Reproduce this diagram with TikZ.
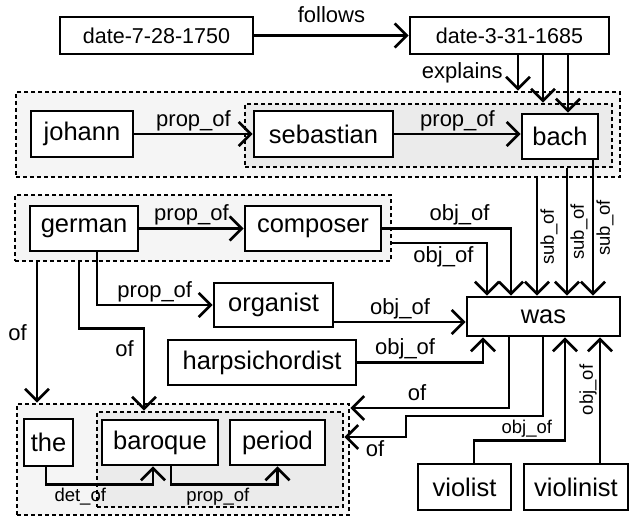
\documentclass[tikz,border=0pt]{standalone}
\usepackage{fontspec}
\setmainfont{Liberation Sans}
\usetikzlibrary{arrows.meta}
\newcommand{\wordfont}{\fontsize{25.5}{30}\selectfont}
\newcommand{\datefont}{\fontsize{21.5}{25}\selectfont}
\newcommand{\relfont}{\fontsize{22}{26}\selectfont}
\newcommand{\smallrelfont}{\fontsize{18.5}{22}\selectfont}

\begin{document}
\begin{tikzpicture}[
  x=1pt, y=-1pt,
  word/.style={draw,rectangle,line width=2.8pt,fill=white,inner sep=0pt,font=\wordfont},
  datebox/.style={word,font=\datefont},
  group/.style={draw,rectangle,line width=2.6pt,dash pattern=on 4pt off 3pt,fill=black!4,inner sep=0pt},
  subgroup/.style={group,fill=black!8},
  rel/.style={font=\relfont,inner sep=2pt},
  srel/.style={font=\smallrelfont,inner sep=2pt},
  link/.style={->,line width=2.7pt},
  >={Straight Barb[length=12pt,width=24pt]}
]
\useasboundingbox (0,0) rectangle (632,519);

\node[group,minimum width=604pt,minimum height=85pt] (bachgrp) at (318,134.5) {};
\node[subgroup,minimum width=367pt,minimum height=63pt] (sebgrp) at (428.5,135.5) {};
\node[group,minimum width=376pt,minimum height=66pt] (germgrp) at (203,228) {};
\node[group,minimum width=332pt,minimum height=111pt] (thegrp) at (183,459.5) {};
\node[subgroup,minimum width=246pt,minimum height=95pt] (barogrp) at (220,459.5) {};

\node[datebox,minimum width=193pt,minimum height=37pt] (d1750) at (156.5,35.5) {date-7-28-1750};
\node[datebox,minimum width=199pt,minimum height=37pt] (d1685) at (509.5,35.5) {date-3-31-1685};
\node[word,minimum width=102pt,minimum height=46pt] (johann) at (82,134) {johann};
\node[word,minimum width=139pt,minimum height=46pt] (sebastian) at (323.5,134) {sebastian};
\node[word,minimum width=76pt,minimum height=45pt] (bach) at (560,136.5) {bach};
\node[word,minimum width=108pt,minimum height=45pt] (german) at (84,228.5) {german};
\node[word,minimum width=136pt,minimum height=45pt] (composer) at (313,228.5) {composer};
\node[word,minimum width=119pt,minimum height=44pt] (organist) at (273.5,305) {organist};
\node[word,minimum width=188pt,minimum height=45pt] (harpsi) at (262,362.5) {harpsichordist};
\node[word,minimum width=153pt,minimum height=39pt] (was) at (543.5,316.5) {was};
\node[word,minimum width=93pt,minimum height=46pt] (violist) at (464.5,487) {violist};
\node[word,minimum width=104pt,minimum height=46pt] (violinist) at (576,487) {violinist};
\node[word,minimum width=49pt,minimum height=47pt] (the) at (48.5,442.5) {the};
\node[word,minimum width=116pt,minimum height=45pt] (baroque) at (160,442.5) {baroque};
\node[word,minimum width=95pt,minimum height=45pt] (period) at (277.5,442.5) {period};

\draw[link] (d1750) -- node[rel,above=9pt] {follows} (d1685);
\draw[link] ([xshift=8.5pt]d1685.south) -- node[rel,left=12pt] {explains} ([xshift=8.5pt]d1685.south |- bachgrp.north);
\draw[link] ([xshift=33.5pt]d1685.south) -- ([xshift=33.5pt]d1685.south |- sebgrp.north);
\draw[link] ([xshift=58.5pt]d1685.south) -- ([xshift=58.5pt]d1685.south |- bach.north);

\draw[link] (johann) -- node[rel,above] {prop\_of} (sebastian);
\draw[link] (sebastian) -- node[rel,above] {prop\_of} (sebastian -| bach.west);
\draw[link] (german) -- node[rel,above] {prop\_of} (composer);

\draw[link] (composer.east) -| node[rel,above,pos=0.3] {obj\_of} ([xshift=-32.5pt]was.north);
\draw[link] ([yshift=-15pt]germgrp.east) -| node[rel,below,pos=0.27] {obj\_of} ([xshift=-56.5pt]was.north);
\draw[link] ([xshift=-6.5pt]was.north |- bachgrp.south) -- node[srel,rotate=90,anchor=north] {sub\_of} ([xshift=-6.5pt]was.north);
\draw[link] ([xshift=23.5pt]was.north |- sebgrp.south) -- node[srel,rotate=90,anchor=north] {sub\_of} ([xshift=23.5pt]was.north);
\draw[link] ([xshift=33pt]bach.south) -- node[srel,rotate=90,anchor=north] {sub\_of} ([xshift=33pt]bach.south |- was.north);

\draw[link] ([xshift=13pt]german.south) |- node[rel,above,pos=0.75] {prop\_of} (organist.west);
\draw[link] ([yshift=-17pt]organist.east) -- node[rel,above] {obj\_of} ([yshift=-17pt]organist.east -| was.west);
\draw[link] (harpsi.east) -| node[rel,above,pos=0.19] {obj\_of} ([xshift=-60.5pt]was.south);

\draw[link] ([xshift=-34.5pt]was.south) |- node[rel,above=4pt,pos=0.79] {of} ([yshift=51.5pt]thegrp.east);
\draw[link] ([xshift=-0.5pt]was.south) |- (406,416) |- node[rel,below,pos=0.75] {of} ([yshift=22.5pt]barogrp.east);
\draw[link] ([xshift=9.5pt]violist.north) -- ++(0,-22) -| node[srel,above,pos=0.29] {obj\_of} ([xshift=21.5pt]was.south);
\draw[link] ([xshift=24pt]violinist.north) -- node[srel,rotate=90,anchor=south,pos=0.58] {obj\_of} ([xshift=24pt]violinist.north |- was.south);

\draw[link] ([xshift=-2.5pt]the.south) -- ++(0,17) -| node[srel,below,pos=0.16] {det\_of} ([xshift=-7pt]baroque.south);
\draw[link] ([xshift=11pt]baroque.south) -- ++(0,18) -| node[srel,below,pos=0.22] {prop\_of} (period.south);
\draw[link] ([xshift=-166pt]germgrp.south) -- node[rel,left=7pt] {of} ([xshift=-166pt]germgrp.south |- thegrp.north);
\draw[link] ([xshift=-124pt]germgrp.south) -- ++(0,66) -| node[rel,left=7pt,pos=0.625] {of} ([xshift=-76pt]barogrp.north);

\end{tikzpicture}
\end{document}
